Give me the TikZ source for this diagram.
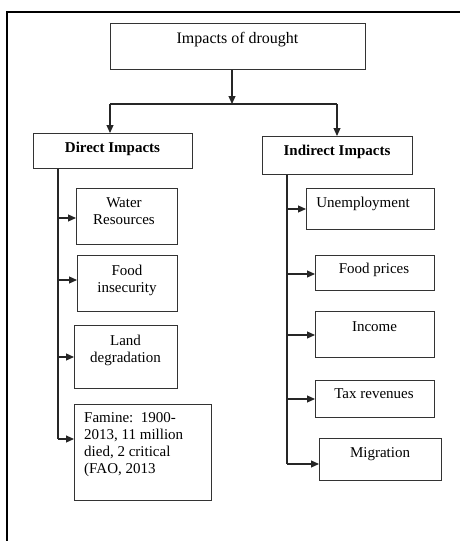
\documentclass[tikz,border=0pt]{standalone}
\usepackage{fontspec}
\setmainfont{Liberation Serif}
\usetikzlibrary{arrows.meta}
\begin{document}
\begin{tikzpicture}[x=1pt,y=-1pt,
  box/.style={draw=black!80,line width=1pt,inner sep=0pt,anchor=north west},
  lbl/.style={inner sep=0pt,anchor=base,font=\fontsize{15}{17}\selectfont,align=center},
  conn/.style={draw=black!85,line width=1.1pt},
  arr/.style={conn,-{Triangle[length=8pt,width=7pt]}}]
\useasboundingbox (0,0) rectangle (460,541);
% frame
\draw[line width=2pt] (6.7,541) -- (6.7,12.3) -- (460,12.3);
% boxes
\node[box,minimum width=255pt,minimum height=46pt] (t) at (110,23) {};
\node[box,minimum width=159pt,minimum height=35pt] (dir) at (33,133) {};
\node[box,minimum width=150pt,minimum height=38pt] (ind) at (262,136) {};
\node[box,minimum width=101pt,minimum height=56pt] (w) at (76,188) {};
\node[box,minimum width=100pt,minimum height=56pt] (fi) at (77,255) {};
\node[box,minimum width=103pt,minimum height=63pt] (ld) at (74,325) {};
\node[box,minimum width=137pt,minimum height=96pt] (fam) at (74,404) {};
\node[box,minimum width=128pt,minimum height=41pt] (un) at (306,188) {};
\node[box,minimum width=119pt,minimum height=35pt] (fp) at (315,255) {};
\node[box,minimum width=119pt,minimum height=46pt] (inc) at (315,311) {};
\node[box,minimum width=119pt,minimum height=37pt] (tax) at (315,380) {};
\node[box,minimum width=122pt,minimum height=42pt] (mig) at (319,438) {};
% labels (anchor base = baseline of the last line)
\node[lbl,font=\fontsize{16}{18}\selectfont] (tl) at (237.5,43) {Impacts of drought};
\node[lbl,font=\fontsize{15}{17}\selectfont\bfseries] (dl) at (112.5,152) {Direct Impacts};
\node[lbl,font=\fontsize{15}{17}\selectfont\bfseries] (il) at (337,155.5) {Indirect Impacts};
\node[lbl] (wl) at (124,224) {Water\\Resources};
\node[lbl] (fil) at (127,292) {Food\\insecurity};
\node[lbl] (ldl) at (125.5,362) {Land\\degradation};
\node[lbl,align=left,anchor=base west] (faml) at (84,473) {Famine:\ \ 1900-\\2013, 11 million\\died, 2 critical\\(FAO, 2013};
\node[lbl] (unl) at (363,207) {Unemployment};
\node[lbl] (fpl) at (374,273) {Food prices};
\node[lbl] (incl) at (374.5,331) {Income};
\node[lbl] (taxl) at (374,398) {Tax revenues};
\node[lbl] (migl) at (380,457) {Migration};
% top connectors
\coordinate (split) at (232,104);
\coordinate (sl) at (110,104);
\coordinate (sr) at (337,104);
\draw[arr] (t.south -| split) -- (split);
\draw[conn] (sl) -- (sr);
\draw[arr] (sl) -- (sl |- dir.north);
\draw[arr] (sr) -- (sr |- ind.north);
% left trunk
\coordinate (lx) at (58,0);
\coordinate (d1) at (58,218);
\coordinate (d2) at (58,280);
\coordinate (d3) at (58,357);
\coordinate (d4) at (58,439);
\draw[conn] (dir.south -| lx) -- (d4);
\draw[arr] (d1) -- (d1 -| w.west);
\draw[arr] (d2) -- (d2 -| fi.west);
\draw[arr] (d3) -- (d3 -| ld.west);
\draw[arr] (d4) -- (d4 -| fam.west);
% right trunk
\coordinate (rx) at (287,0);
\coordinate (i1) at (287,209);
\coordinate (i2) at (287,274);
\coordinate (i3) at (287,335);
\coordinate (i4) at (287,399);
\coordinate (i5) at (287,464);
\draw[conn] (ind.south -| rx) -- (i5);
\draw[arr] (i1) -- (i1 -| un.west);
\draw[arr] (i2) -- (i2 -| fp.west);
\draw[arr] (i3) -- (i3 -| inc.west);
\draw[arr] (i4) -- (i4 -| tax.west);
\draw[arr] (i5) -- (i5 -| mig.west);
\end{tikzpicture}
\end{document}
